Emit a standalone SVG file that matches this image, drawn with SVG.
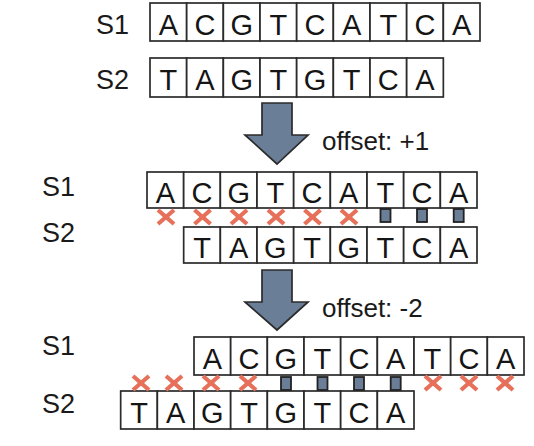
<svg xmlns="http://www.w3.org/2000/svg" xmlns:xlink="http://www.w3.org/1999/xlink" width="534" height="446" viewBox="0 0 534 446">
<style>
.cell{fill:#ffffff;stroke:#2b2b2b;stroke-width:1.7}
.b{font-family:"Liberation Sans",Arial,sans-serif;font-size:29px;fill:#151515;text-anchor:middle}
.lab{font-family:"Liberation Sans",Arial,sans-serif;font-size:27px;fill:#1a1a1a}
.off{font-family:"Liberation Sans",Arial,sans-serif;font-size:26px;fill:#1a1a1a}
.arrow{fill:#6b7e97;stroke:#2b2b2b;stroke-width:1.7;stroke-linejoin:miter}
.x{stroke:#e6705a;stroke-width:4.2;stroke-linecap:butt}
.m{fill:#6b7e97;stroke:#222;stroke-width:1.8}
</style>
<defs>
<g id="xm"><line class="x" x1="-8" y1="-7" x2="8" y2="7"/><line class="x" x1="-8" y1="7" x2="8" y2="-7"/></g>
</defs>
<rect width="534" height="446" fill="#ffffff"/>

<g id="row1">
<text class="lab" x="96" y="34">S1</text>
<text class="lab" x="96" y="89">S2</text>
<g id="r1s1">
<rect class="cell" x="150" y="3" width="36.67" height="38"/><text class="b" x="168.3" y="35">A</text>
<rect class="cell" x="186.67" y="3" width="36.67" height="38"/><text class="b" x="205" y="35">C</text>
<rect class="cell" x="223.33" y="3" width="36.67" height="38"/><text class="b" x="241.7" y="35">G</text>
<rect class="cell" x="260" y="3" width="36.67" height="38"/><text class="b" x="278.3" y="35">T</text>
<rect class="cell" x="296.67" y="3" width="36.67" height="38"/><text class="b" x="315" y="35">C</text>
<rect class="cell" x="333.33" y="3" width="36.67" height="38"/><text class="b" x="351.7" y="35">A</text>
<rect class="cell" x="370" y="3" width="36.67" height="38"/><text class="b" x="388.3" y="35">T</text>
<rect class="cell" x="406.67" y="3" width="36.67" height="38"/><text class="b" x="425" y="35">C</text>
<rect class="cell" x="443.33" y="3" width="36.67" height="38"/><text class="b" x="461.7" y="35">A</text>
</g>
<g id="r1s2">
<rect class="cell" x="150" y="58" width="36.67" height="39"/><text class="b" x="168.3" y="90">T</text>
<rect class="cell" x="186.67" y="58" width="36.67" height="39"/><text class="b" x="205" y="90">A</text>
<rect class="cell" x="223.33" y="58" width="36.67" height="39"/><text class="b" x="241.7" y="90">G</text>
<rect class="cell" x="260" y="58" width="36.67" height="39"/><text class="b" x="278.3" y="90">T</text>
<rect class="cell" x="296.67" y="58" width="36.67" height="39"/><text class="b" x="315" y="90">G</text>
<rect class="cell" x="333.33" y="58" width="36.67" height="39"/><text class="b" x="351.7" y="90">T</text>
<rect class="cell" x="370" y="58" width="36.67" height="39"/><text class="b" x="388.3" y="90">C</text>
<rect class="cell" x="406.67" y="58" width="36.67" height="39"/><text class="b" x="425" y="90">A</text>
</g>
</g>

<g id="row2">
<text class="lab" x="42" y="196">S1</text>
<text class="lab" x="42" y="242">S2</text>
<g id="r2s1">
<rect class="cell" x="147" y="172" width="36.67" height="36"/><text class="b" x="165.3" y="203">A</text>
<rect class="cell" x="183.67" y="172" width="36.67" height="36"/><text class="b" x="202" y="203">C</text>
<rect class="cell" x="220.33" y="172" width="36.67" height="36"/><text class="b" x="238.7" y="203">G</text>
<rect class="cell" x="257" y="172" width="36.67" height="36"/><text class="b" x="275.3" y="203">T</text>
<rect class="cell" x="293.67" y="172" width="36.67" height="36"/><text class="b" x="312" y="203">C</text>
<rect class="cell" x="330.33" y="172" width="36.67" height="36"/><text class="b" x="348.7" y="203">A</text>
<rect class="cell" x="367" y="172" width="36.67" height="36"/><text class="b" x="385.3" y="203">T</text>
<rect class="cell" x="403.67" y="172" width="36.67" height="36"/><text class="b" x="422" y="203">C</text>
<rect class="cell" x="440.33" y="172" width="36.67" height="36"/><text class="b" x="458.7" y="203">A</text>
</g>
<g id="r2s2">
<rect class="cell" x="183.67" y="227" width="36.67" height="36"/><text class="b" x="202" y="258">T</text>
<rect class="cell" x="220.33" y="227" width="36.67" height="36"/><text class="b" x="238.7" y="258">A</text>
<rect class="cell" x="257" y="227" width="36.67" height="36"/><text class="b" x="275.3" y="258">G</text>
<rect class="cell" x="293.67" y="227" width="36.67" height="36"/><text class="b" x="312" y="258">T</text>
<rect class="cell" x="330.33" y="227" width="36.67" height="36"/><text class="b" x="348.7" y="258">G</text>
<rect class="cell" x="367" y="227" width="36.67" height="36"/><text class="b" x="385.3" y="258">T</text>
<rect class="cell" x="403.67" y="227" width="36.67" height="36"/><text class="b" x="422" y="258">C</text>
<rect class="cell" x="440.33" y="227" width="36.67" height="36"/><text class="b" x="458.7" y="258">A</text>
</g>
<g id="r2marks">
<use xlink:href="#xm" href="#xm" x="166" y="217"/>
<use xlink:href="#xm" href="#xm" x="202.5" y="217"/>
<use xlink:href="#xm" href="#xm" x="239" y="217"/>
<use xlink:href="#xm" href="#xm" x="276" y="217"/>
<use xlink:href="#xm" href="#xm" x="312.5" y="217"/>
<use xlink:href="#xm" href="#xm" x="349" y="217"/>
<rect class="m" x="380.5" y="209" width="10" height="13"/>
<rect class="m" x="417" y="209" width="10" height="13"/>
<rect class="m" x="453.7" y="209" width="10" height="13"/>
</g>
</g>

<g id="row3">
<text class="lab" x="42" y="355">S1</text>
<text class="lab" x="42" y="413">S2</text>
<g id="r3s1">
<rect class="cell" x="194" y="337" width="36.67" height="38"/><text class="b" x="212.3" y="369">A</text>
<rect class="cell" x="230.67" y="337" width="36.67" height="38"/><text class="b" x="249" y="369">C</text>
<rect class="cell" x="267.33" y="337" width="36.67" height="38"/><text class="b" x="285.7" y="369">G</text>
<rect class="cell" x="304" y="337" width="36.67" height="38"/><text class="b" x="322.3" y="369">T</text>
<rect class="cell" x="340.67" y="337" width="36.67" height="38"/><text class="b" x="359" y="369">C</text>
<rect class="cell" x="377.33" y="337" width="36.67" height="38"/><text class="b" x="395.7" y="369">A</text>
<rect class="cell" x="414" y="337" width="36.67" height="38"/><text class="b" x="432.3" y="369">T</text>
<rect class="cell" x="450.67" y="337" width="36.67" height="38"/><text class="b" x="469" y="369">C</text>
<rect class="cell" x="487.33" y="337" width="36.67" height="38"/><text class="b" x="505.7" y="369">A</text>
</g>
<g id="r3s2">
<rect class="cell" x="120.67" y="391" width="36.67" height="38"/><text class="b" x="139" y="423">T</text>
<rect class="cell" x="157.33" y="391" width="36.67" height="38"/><text class="b" x="175.7" y="423">A</text>
<rect class="cell" x="194" y="391" width="36.67" height="38"/><text class="b" x="212.3" y="423">G</text>
<rect class="cell" x="230.67" y="391" width="36.67" height="38"/><text class="b" x="249" y="423">T</text>
<rect class="cell" x="267.33" y="391" width="36.67" height="38"/><text class="b" x="285.7" y="423">G</text>
<rect class="cell" x="304" y="391" width="36.67" height="38"/><text class="b" x="322.3" y="423">T</text>
<rect class="cell" x="340.67" y="391" width="36.67" height="38"/><text class="b" x="359" y="423">C</text>
<rect class="cell" x="377.33" y="391" width="36.67" height="38"/><text class="b" x="395.7" y="423">A</text>
</g>
<g id="r3marks">
<use xlink:href="#xm" href="#xm" x="141" y="383"/>
<use xlink:href="#xm" href="#xm" x="174" y="383"/>
<use xlink:href="#xm" href="#xm" x="211" y="383"/>
<use xlink:href="#xm" href="#xm" x="248" y="383"/>
<rect class="m" x="281" y="377" width="10" height="13"/>
<rect class="m" x="317.5" y="377" width="10" height="13"/>
<rect class="m" x="354" y="377" width="10" height="13"/>
<rect class="m" x="390.7" y="377" width="10" height="13"/>
<use xlink:href="#xm" href="#xm" x="433" y="383"/>
<use xlink:href="#xm" href="#xm" x="469" y="383"/>
<use xlink:href="#xm" href="#xm" x="505" y="383"/>
</g>
</g>

<g id="connectors">
<path class="arrow" d="M262,103 H292 V135 H308 L277,164 L245,135 H262 Z"/>
<text class="off" x="322" y="150">offset: +1</text>
<path class="arrow" d="M262,270 H292 V302 H308 L277,330 L245,302 H262 Z"/>
<text class="off" x="322" y="317">offset: -2</text>
</g>
</svg>
